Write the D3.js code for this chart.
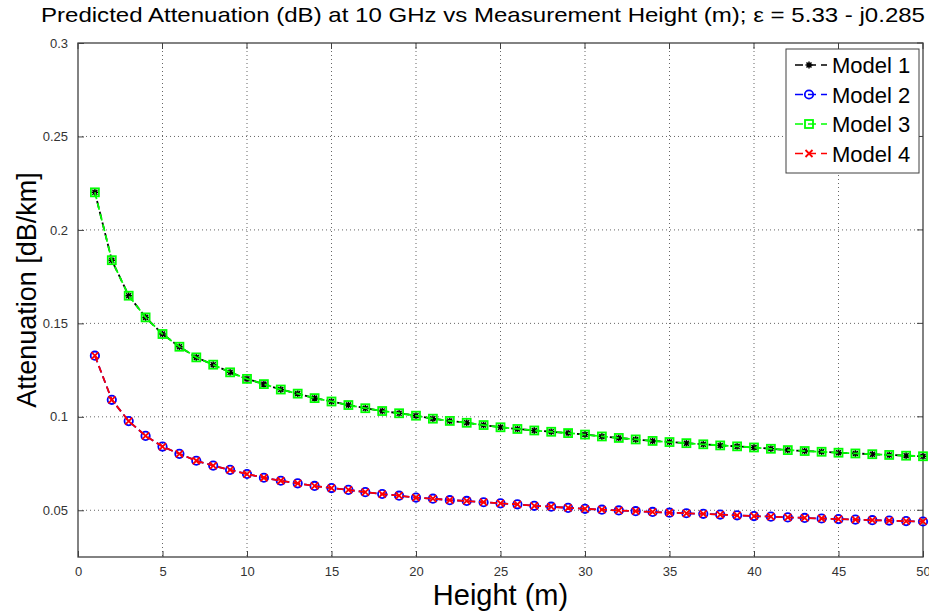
<!DOCTYPE html>
<html>
<head>
<meta charset="utf-8">
<script src="https://cdn.jsdelivr.net/npm/d3@7"></script>
<style>
  body { margin: 0; background: #fff; }
  svg { font-family: "Liberation Sans", Arial, sans-serif; }
</style>
</head>
<body>
<svg id="chart" width="929" height="612"></svg>
<script>
// Heights (m)
var heights = d3.range(1, 51);

// Models 1 & 3 (they overlap)
var upperModel = [0.2201, 0.1838, 0.1648, 0.1532, 0.1443, 0.1375, 0.1318, 0.1279, 0.1238, 0.1203,
  0.1175, 0.1146, 0.1124, 0.1100, 0.1082, 0.1063, 0.1046, 0.1031, 0.1019, 0.1006,
  0.0990, 0.0978, 0.0968, 0.0956, 0.0944, 0.0935, 0.0927, 0.0920, 0.0913, 0.0905,
  0.0895, 0.0887, 0.0879, 0.0871, 0.0865, 0.0859, 0.0853, 0.0847, 0.0842, 0.0836,
  0.0829, 0.0822, 0.0817, 0.0813, 0.0808, 0.0804, 0.0800, 0.0796, 0.0792, 0.0789];

// Models 2 & 4 (they overlap)
var lowerModel = [0.1327, 0.1091, 0.0977, 0.0898, 0.0841, 0.0802, 0.0765, 0.0739, 0.0716, 0.0694,
  0.0674, 0.0658, 0.0644, 0.0630, 0.0619, 0.0609, 0.0597, 0.0587, 0.0578, 0.0568,
  0.0562, 0.0554, 0.0550, 0.0543, 0.0537, 0.0532, 0.0524, 0.0519, 0.0513, 0.0508,
  0.0503, 0.0499, 0.0495, 0.0491, 0.0487, 0.0484, 0.0481, 0.0477, 0.0473, 0.0469,
  0.0466, 0.0462, 0.0459, 0.0456, 0.0453, 0.0450, 0.0447, 0.0445, 0.0442, 0.0440];

var modelNames = ["Model 1", "Model 2", "Model 3", "Model 4"];
var modelColors = ["#000000", "#0000ff", "#00ff00", "#ff0000"];
var modelMarkers = ["star", "circle", "square", "cross"];
var modelValues = [upperModel, lowerModel, upperModel, lowerModel];

var xTicks = [0, 5, 10, 15, 20, 25, 30, 35, 40, 45, 50];
var yTicks = [0.05, 0.1, 0.15, 0.2, 0.25, 0.3];

var titleText = "Predicted Attenuation (dB) at 10 GHz vs Measurement Height (m); \u03b5 = 5.33 - j0.285";

// layout
var margin = {top: 43, right: 6, bottom: 55, left: 78},
    width = 929 - margin.left - margin.right,
    height = 612 - margin.top - margin.bottom;

var svg = d3.select("#chart");
var g = svg.append("g").attr("transform", "translate(" + margin.left + "," + margin.top + ")");

var x = d3.scaleLinear().domain([0, 50]).range([0, width]);
var y = d3.scaleLinear().domain([0.025, 0.3]).range([height, 0]);

var axisColor = "#404040";

// grid (dotted)
g.append("g").selectAll("line").data(xTicks.slice(1, -1)).join("line")
  .attr("x1", d => x(d)).attr("x2", d => x(d))
  .attr("y1", 0).attr("y2", height)
  .attr("stroke", axisColor).attr("stroke-width", 1)
  .attr("stroke-dasharray", "1,3").attr("opacity", 0.8);
g.append("g").selectAll("line").data(yTicks.slice(0, -1)).join("line")
  .attr("x1", 0).attr("x2", width)
  .attr("y1", d => y(d)).attr("y2", d => y(d))
  .attr("stroke", axisColor).attr("stroke-width", 1)
  .attr("stroke-dasharray", "1,3").attr("opacity", 0.8);

// axes with inward ticks
var xAxis = d3.axisBottom(x).tickValues(xTicks).tickSize(-6).tickPadding(10).tickFormat(d3.format("d"));
var yAxis = d3.axisLeft(y).tickValues(yTicks).tickSize(-6).tickPadding(10).tickFormat(d => String(+d.toFixed(2)));

var gx = g.append("g").attr("transform", "translate(0," + height + ")").call(xAxis);
var gy = g.append("g").call(yAxis);
[gx, gy].forEach(function(a) {
  a.select(".domain").remove();
  a.selectAll(".tick line").attr("stroke", axisColor);
  a.selectAll(".tick text").attr("fill", "#333").style("font-size", "13px")
    .style("font-family", "Liberation Sans, Arial, sans-serif");
});
// top/right ticks
g.append("g").selectAll("line").data(xTicks).join("line")
  .attr("x1", d => x(d)).attr("x2", d => x(d)).attr("y1", 0).attr("y2", 6)
  .attr("stroke", axisColor);
g.append("g").selectAll("line").data(yTicks).join("line")
  .attr("x1", width - 6).attr("x2", width).attr("y1", d => y(d)).attr("y2", d => y(d))
  .attr("stroke", axisColor);

// box
g.append("rect").attr("x", 0).attr("y", 0).attr("width", width).attr("height", height)
  .attr("fill", "none").attr("stroke", axisColor).attr("stroke-width", 1.3);

// marker drawing
function drawMarker(sel, type, color) {
  if (type === "circle") {
    sel.append("circle").attr("r", 4.2).attr("fill", "none").attr("stroke", color).attr("stroke-width", 1.8);
  } else if (type === "square") {
    sel.append("rect").attr("x", -4).attr("y", -4).attr("width", 8).attr("height", 8)
      .attr("fill", "none").attr("stroke", color).attr("stroke-width", 1.8);
  } else if (type === "cross") {
    sel.append("path").attr("d", "M-3.5,-3.5L3.5,3.5M-3.5,3.5L3.5,-3.5")
      .attr("stroke", color).attr("stroke-width", 1.8);
  } else {
    sel.append("path").attr("d", "M-3.5,0L3.5,0M0,-3.5L0,3.5M-2.5,-2.5L2.5,2.5M-2.5,2.5L2.5,-2.5")
      .attr("stroke", color).attr("stroke-width", 1.5);
  }
}

var line = d3.line().x((d, i) => x(heights[i])).y(d => y(d));

modelNames.forEach(function(name, k) {
  var s = g.append("g").attr("class", "series");
  s.append("path").datum(modelValues[k])
    .attr("d", line)
    .attr("fill", "none")
    .attr("stroke", modelColors[k])
    .attr("stroke-width", 1.8)
    .attr("stroke-dasharray", "7,4")
    .attr("stroke-dashoffset", k === 0 ? 2 : 0);
  s.selectAll("g.mk").data(modelValues[k]).join("g").attr("class", "mk")
    .attr("transform", (d, i) => "translate(" + x(heights[i]) + "," + y(d) + ")")
    .each(function() { drawMarker(d3.select(this), modelMarkers[k], modelColors[k]); });
});

// legend
var lg = svg.append("g").attr("transform", "translate(786,49)");
lg.append("rect").attr("width", 133).attr("height", 124).attr("fill", "#fff")
  .attr("stroke", axisColor).attr("stroke-width", 1);
modelNames.forEach(function(name, k) {
  var row = lg.append("g").attr("transform", "translate(0," + (16 + k * 29.5) + ")");
  row.append("line").attr("x1", 9).attr("x2", 41).attr("y1", 0).attr("y2", 0)
    .attr("stroke", modelColors[k]).attr("stroke-width", 1.5).attr("stroke-dasharray", "8,5");
  var m = row.append("g").attr("transform", "translate(23,0)");
  drawMarker(m, modelMarkers[k], modelColors[k]);
  row.append("text").attr("x", 46).attr("y", 8).text(name)
    .style("font-size", "22px").attr("fill", "#000");
});

// title and labels
svg.append("text").attr("x", 41).attr("y", 22).text(titleText)
  .attr("textLength", 884).attr("lengthAdjust", "spacingAndGlyphs")
  .style("font-size", "21px").attr("fill", "#000");

svg.append("text").attr("x", margin.left + width / 2).attr("y", 605)
  .attr("text-anchor", "middle").text("Height (m)")
  .style("font-size", "29px").attr("fill", "#000");

svg.append("text").attr("transform", "translate(36,290) rotate(-90)")
  .attr("text-anchor", "middle").text("Attenuation [dB/km]")
  .style("font-size", "27px").attr("fill", "#000");
</script>
</body>
</html>
